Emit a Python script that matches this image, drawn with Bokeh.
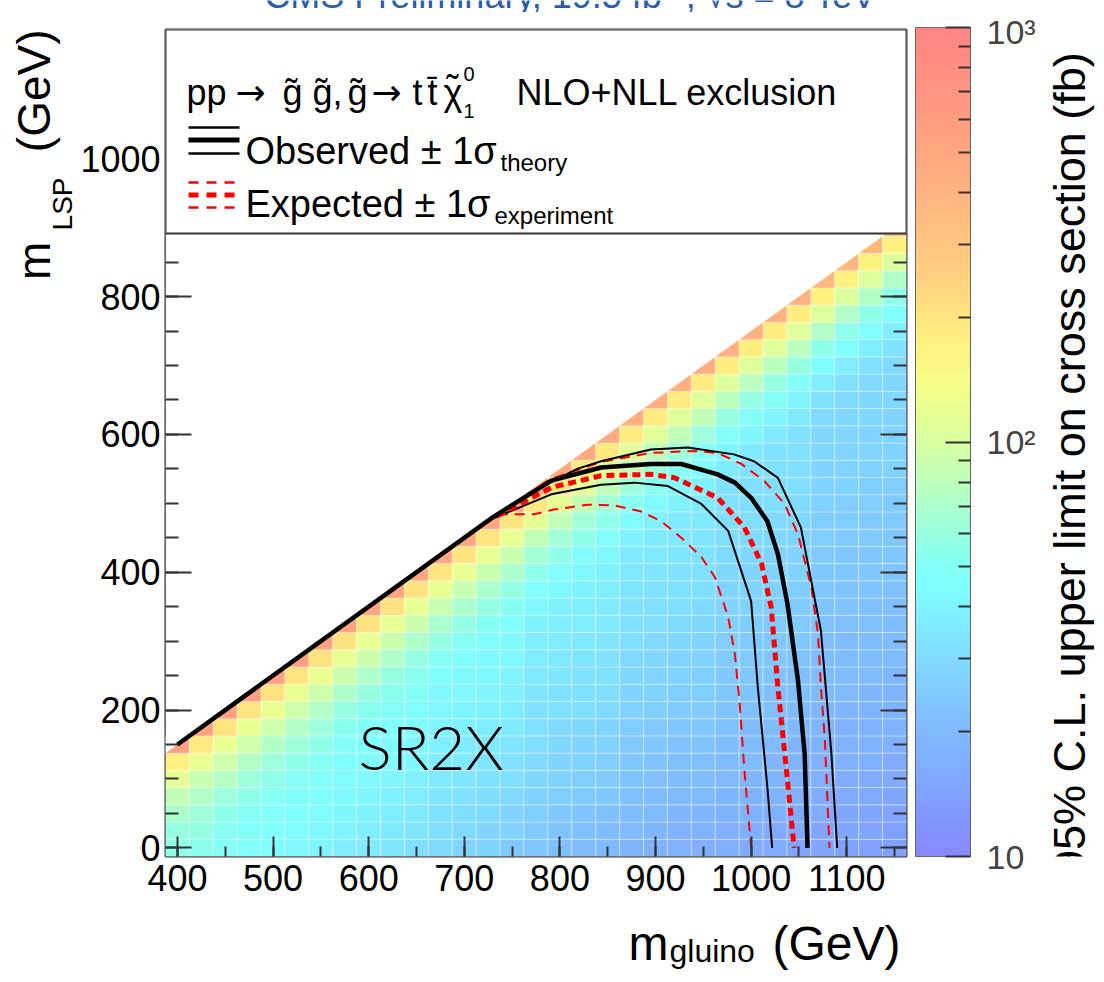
import numpy as np
from bokeh.plotting import figure
from bokeh.layouts import row, column
from bokeh.models import (LinearAxis, Range1d, ColorBar, LogColorMapper, FixedTicker, Title,
                          SingleIntervalTicker, BoxAnnotation, Label, ColumnDataSource)
from bokeh.embed import file_html
from bokeh.resources import INLINE

# ---------------- data ----------------
m_gluino = [400, 425, 450, 475, 500, 525, 550, 575, 600, 625, 650, 675, 700, 725, 750, 775,
            800, 825, 850, 875, 900, 925, 950, 975, 1000, 1025, 1050, 1075, 1100, 1125, 1150]
lsp_step = 25
# 95% CL upper limit (fb) per gluino-mass column, from m_LSP = 0 upward in 25 GeV steps
lim_400 = [55, 60, 70, 85, 115, 170, 550]
lim_425 = [54, 58, 64, 74, 88, 118, 190, 560]
lim_450 = [50, 52, 56, 63, 75, 92, 122, 200, 560]
lim_475 = [47, 48, 51, 55, 62, 74, 92, 122, 200, 550]
lim_500 = [45, 47, 48, 51, 55, 62, 74, 92, 122, 200, 550]
lim_525 = [42, 44, 46, 48, 51, 55, 62, 74, 92, 122, 200, 550]
lim_550 = [40, 42, 44, 46, 48, 51, 55, 62, 74, 92, 122, 200, 540]
lim_575 = [38, 40, 41, 43, 44, 46, 49, 53, 60, 72, 90, 120, 200, 520]
lim_600 = [36, 38, 39, 41, 43, 44, 46, 49, 53, 60, 72, 90, 120, 200, 520]
lim_625 = [34, 36, 37, 39, 41, 43, 44, 46, 49, 53, 60, 72, 90, 120, 200, 520]
lim_650 = [32, 34, 35, 37, 39, 41, 42, 44, 46, 49, 53, 60, 72, 90, 120, 200, 520]
lim_675 = [30, 31, 33, 34, 36, 37, 39, 40, 42, 43, 46, 51, 58, 70, 88, 118, 195, 500]
lim_700 = [28, 30, 31, 33, 34, 36, 37, 39, 40, 42, 43, 46, 51, 58, 70, 88, 118, 195, 500]
lim_725 = [27, 28, 30, 31, 33, 34, 36, 37, 39, 40, 42, 43, 46, 51, 58, 70, 88, 118, 195, 500]
lim_750 = [25, 27, 28, 30, 31, 33, 34, 36, 37, 39, 40, 42, 43, 46, 51, 58, 70, 88, 118, 195, 500]
lim_775 = [24, 25, 26, 27, 29, 30, 31, 32, 33, 34, 35, 37, 38, 39, 42, 47, 55, 66, 85, 115, 190, 470]
lim_800 = [22, 23, 24, 26, 27, 28, 29, 30, 32, 33, 34, 35, 37, 38, 39, 42, 47, 55, 66, 85, 115, 190, 470]
lim_825 = [21, 22, 23, 25, 26, 27, 28, 29, 31, 32, 33, 34, 35, 37, 38, 39, 42, 47, 55, 66, 85, 115, 190, 470]
lim_850 = [20, 21, 22, 24, 25, 26, 27, 28, 30, 31, 32, 33, 34, 35, 37, 38, 39, 42, 47, 55, 66, 85, 115, 190, 470]
lim_875 = [19, 20, 21, 22, 23, 24, 25, 26, 27, 28, 29, 30, 31, 32, 33, 34, 35, 36, 39, 44, 52, 63, 82, 112, 185, 440]
lim_900 = [18, 19, 20, 21, 22, 23, 24, 25, 26, 27, 28, 29, 30, 31, 32, 33, 34, 35, 36, 39, 44, 52, 63, 82, 112, 185, 440]
lim_925 = [18, 18, 19, 20, 21, 22, 23, 24, 25, 26, 27, 28, 29, 30, 31, 32, 33, 34, 35, 36, 39, 44, 52, 63, 82, 112, 185, 440]
lim_950 = [17, 18, 19, 20, 21, 22, 23, 24, 25, 26, 26, 27, 28, 29, 30, 31, 32, 33, 34, 35, 36, 39, 44, 52, 63, 82, 112, 185, 440]
lim_975 = [17, 17, 18, 19, 20, 20, 21, 22, 23, 24, 24, 25, 26, 27, 28, 28, 29, 30, 31, 31, 32,
           33, 36, 41, 49, 60, 78, 108, 178, 410]
lim_1000 = [16, 17, 18, 18, 19, 20, 21, 21, 22, 23, 24, 25, 25, 26, 27, 28, 28, 29, 30, 31, 31, 32,
            33, 36, 41, 49, 60, 78, 108, 178, 410]
lim_1025 = [16, 16, 17, 18, 19, 19, 20, 21, 22, 22, 23, 24, 25, 25, 26, 27, 28, 28, 29, 30, 31, 31, 32,
            33, 36, 41, 49, 60, 78, 108, 178, 410]
lim_1050 = [15, 16, 16, 17, 18, 19, 19, 20, 21, 22, 22, 23, 24, 25, 25, 26, 27, 28, 28, 29, 30, 31, 31, 32,
            33, 36, 41, 49, 60, 78, 108, 178, 410]
lim_1075 = [15, 15, 16, 16, 17, 18, 18, 19, 19, 20, 21, 21, 22, 23, 23, 24, 24, 25, 26, 26, 27, 28, 28, 29, 29,
            30, 33, 38, 46, 56, 74, 104, 170, 380]
lim_1100 = [14, 15, 15, 16, 16, 17, 18, 18, 19, 20, 20, 21, 21, 22, 23, 23, 24, 24, 25, 26, 26, 27, 28, 28, 29, 29,
            30, 33, 38, 46, 56, 74, 104, 170, 380]
lim_1125 = [14, 15, 15, 16, 16, 17, 18, 18, 19, 19, 20, 21, 21, 22, 22, 23, 24, 24, 25, 25, 26, 26, 27, 28, 28, 29, 29,
            30, 33, 38, 46, 56, 74, 104, 170, 380]
lim_1150 = [14, 14, 15, 15, 16, 16, 17, 18, 18, 19, 19, 20, 21, 21, 22, 22, 23, 24, 24, 25, 25, 26, 27, 27, 28, 28, 29, 29,
            30, 33, 38, 46, 56, 74, 104, 170, 380]
limit_columns = [lim_400, lim_425, lim_450, lim_475, lim_500, lim_525, lim_550, lim_575, lim_600, lim_625,
                 lim_650, lim_675, lim_700, lim_725, lim_750, lim_775, lim_800, lim_825, lim_850, lim_875,
                 lim_900, lim_925, lim_950, lim_975, lim_1000, lim_1025, lim_1050, lim_1075, lim_1100,
                 lim_1125, lim_1150]

# exclusion contours (m_gluino, m_LSP)
obs_x = [400, 730, 791, 843, 895, 927, 965, 983, 1000, 1017, 1028, 1038, 1049, 1056, 1059]
obs_y = [150, 480, 533, 552, 557, 557, 542, 530, 508, 474, 426, 354, 243, 136, 0]
obs_up_x = [730, 770, 818, 843, 895, 934, 982, 1003, 1028, 1052, 1073, 1084, 1090]
obs_up_y = [480, 516, 550, 561, 578, 581, 571, 561, 537, 465, 315, 136, 0]
obs_dn_x = [730, 791, 843, 878, 913, 948, 976, 1000, 1007, 1017, 1022]
obs_dn_y = [478, 513, 527, 530, 525, 499, 460, 358, 233, 88, 0]
exp_x = [735, 791, 843, 895, 920, 965, 993, 1011, 1021, 1028, 1037, 1045]
exp_y = [482, 523, 540, 542, 537, 508, 465, 412, 349, 233, 112, 0]
exp_dn_x = [735, 773, 794, 829, 857, 885, 906, 927, 948, 962, 976, 983, 988, 993, 1000]
exp_dn_y = [484, 484, 491, 498, 497, 488, 474, 450, 422, 393, 335, 281, 209, 112, 0]
exp_up_x = [735, 790, 843, 895, 941, 965, 990, 1014, 1035, 1049, 1063, 1070, 1073, 1077, 1082]
exp_up_y = [484, 535, 560, 573, 576, 573, 557, 532, 499, 455, 378, 310, 233, 160, 0]

cbar_ticks = [10, 100, 1000]
cbar_minor = [20, 30, 40, 50, 60, 70, 80, 90, 200, 300, 400, 500, 600, 700, 800, 900]
cbar_tick_labels = ["10", "10\u00b2", "10\u00b3"]

# ---------------- layout (page pixels) ----------------
W, H = 1096, 974
TOP_H = 12            # strip holding the cut-off title
BOT_H = 59            # strip holding the x-axis title
RIGHT_W = 52          # strip holding the colour-bar title
PW, PH = W - RIGHT_W, H - TOP_H - BOT_H
X0, X1 = 387.5, 1162.5
Y0, Y1 = -12.5, 1187.5
FL, FR, FT, FB = 165.0, 906.0, 29.0, 856.0   # frame edges on the page


def px_x(X):
    return X0 + (X - FL) * (X1 - X0) / (FR - FL)


def px_y(Y):
    return Y0 + (FB - Y) * (Y1 - Y0) / (FB - FT)


FONT = "Liberation Sans"
NB = "\u00a0"

p = figure(width=PW, height=PH, output_backend="svg", toolbar_location=None,
           x_range=Range1d(X0, X1), y_range=Range1d(Y0, Y1),
           min_border_left=int(FL), min_border_right=int(PW - FR),
           min_border_top=int(FT - TOP_H), min_border_bottom=int(TOP_H + PH - FB))
p.xgrid.visible = False
p.ygrid.visible = False
p.outline_line_color = "#333333"
p.outline_line_width = 2
p.background_fill_color = "white"
p.border_fill_color = "white"

# palette: pastel rainbow
anchors = [(0.0, "#8888ff"), (0.05, "#8098ff"), (0.09, "#80a8ff"), (0.17, "#80c0ff"),
           (0.25, "#80e0ff"), (0.33, "#80ffff"), (0.36, "#88fff0"), (0.43, "#b0ffc8"),
           (0.5, "#d8ffa0"), (0.57, "#f5ff88"), (0.62, "#fff080"), (0.7, "#ffd080"),
           (0.8, "#ffb480"), (0.9, "#ff9a80"), (1.0, "#ff8585")]
at = np.array([a[0] for a in anchors])
ac = np.array([[int(a[1][i:i + 2], 16) for i in (1, 3, 5)] for a in anchors], dtype=float)
palette = []
for t in np.linspace(0, 1, 200):
    rgb = [int(round(np.interp(t, at, ac[:, k]))) for k in range(3)]
    palette.append("#%02x%02x%02x" % tuple(rgb))
mapper = LogColorMapper(palette=palette, low=10, high=1000)

# heatmap cells
cx, cy, cv = [], [], []
for mg, col in zip(m_gluino, limit_columns):
    for i, v in enumerate(col):
        cx.append(mg)
        cy.append(i * lsp_step)
        cv.append(v)
src = ColumnDataSource(dict(x=cx, y=cy, v=cv))
p.rect("x", "y", width=lsp_step, height=lsp_step, source=src,
       fill_color={"field": "v", "transform": mapper},
       line_color="white", line_alpha=0.35, line_width=1)

# white mask above the kinematic diagonal
half = lsp_step / 2
dm_min = m_gluino[0] - (len(lim_400) - 1) * lsp_step
mx0, mx1 = m_gluino[0] - half, m_gluino[-1] + half
p.patch([mx0, mx1, mx1, mx0], [mx0 - dm_min, mx1 - dm_min, Y1 + 50, Y1 + 50],
        fill_color="white", line_color=None)

# contours
p.line(exp_up_x, exp_up_y, line_color="red", line_width=2, line_dash="10 7")
p.line(exp_dn_x, exp_dn_y, line_color="red", line_width=2, line_dash="10 7")
p.line(obs_up_x, obs_up_y, line_color="black", line_width=2)
p.line(obs_dn_x, obs_dn_y, line_color="black", line_width=2)
p.line(exp_x, exp_y, line_color="red", line_width=5, line_dash="8 5")
p.line(obs_x, obs_y, line_color="black", line_width=4.5)

# axes
for ax in (p.xaxis[0], p.yaxis[0]):
    ax.major_label_text_font = FONT
    ax.major_label_text_font_size = "36px"
    ax.major_label_text_color = "black"
    ax.axis_line_color = None
    ax.major_tick_out = 0
    ax.minor_tick_out = 0
    ax.major_tick_line_color = "#333333"
    ax.minor_tick_line_color = "#333333"
    ax.major_tick_line_width = 2
    ax.minor_tick_line_width = 2
p.xaxis[0].ticker = SingleIntervalTicker(interval=100, num_minor_ticks=2)
p.yaxis[0].ticker = SingleIntervalTicker(interval=200, num_minor_ticks=4)
p.xaxis[0].major_tick_in = 20
p.xaxis[0].minor_tick_in = 10
p.yaxis[0].major_tick_in = 26
p.yaxis[0].minor_tick_in = 13
p.xaxis[0].major_label_standoff = 8
p.yaxis[0].major_label_standoff = 5

rax = LinearAxis(ticker=SingleIntervalTicker(interval=200, num_minor_ticks=4),
                 major_label_text_font_size="1px", major_label_text_color=None,
                 major_label_standoff=0,
                 axis_line_color=None, major_tick_out=0, minor_tick_out=0,
                 major_tick_in=26, minor_tick_in=13,
                 major_tick_line_color="#333333", minor_tick_line_color="#333333",
                 major_tick_line_width=2, minor_tick_line_width=2)
p.add_layout(rax, "right")

cbar = ColorBar(color_mapper=mapper,
                ticker=FixedTicker(ticks=cbar_ticks, minor_ticks=cbar_minor),
                width=55, height=829, padding=0, margin=0, location=(9, 0),
                major_label_overrides={t: s for t, s in zip(cbar_ticks, cbar_tick_labels)},
                major_label_text_font=FONT, major_label_text_font_size="34px",
                major_tick_in=25, major_tick_out=0, minor_tick_in=12, minor_tick_out=0,
                major_tick_line_color="#333333", minor_tick_line_color="#333333",
                major_tick_line_width=2, minor_tick_line_width=2,
                label_standoff=16, bar_line_color="#666666", border_line_color=None,
                background_fill_color=None)
p.add_layout(cbar, "right")


def side_title(text, side, size, align, offset, standoff, valign="bottom"):
    t = Title(text=text, align=align, offset=offset, text_font=FONT,
              text_font_size="%dpx" % size, text_font_style="normal", text_color="black",
              vertical_align=valign)
    try:
        t.standoff = standoff
    except Exception:
        t.standoff = 0
    p.add_layout(t, side)
    return t


# y-axis title: m_LSP (GeV)
side_title("LSP", "left", 28, "right", 148, 0)
side_title("m" + NB * 7 + "(GeV)", "left", 46, "right", 0, -30)

# legend box
p.add_layout(BoxAnnotation(left=X0, right=X1, bottom=px_y(233), top=Y1,
                           fill_color="white", fill_alpha=1.0,
                           line_color="#333333", line_alpha=1.0, line_width=2))


def lab(text, X, Y, size, angle=0.0, align="left", baseline="alphabetic", color="black", font=FONT):
    l = Label(x=px_x(X), y=px_y(Y), text=text, text_font=font,
              text_font_size="%dpx" % size, angle=angle, text_align=align,
              text_baseline=baseline, text_color=color, level="overlay")
    p.add_layout(l)
    return l


# legend symbols
for yy, w in ((127, 2.5), (139.5, 5), (153, 2.5)):
    r = p.line([px_x(188), px_x(239)], [px_y(yy), px_y(yy)], line_color="black", line_width=w)
    r.level = "overlay"
for yy, w in ((182, 2.5), (194.5, 5), (207, 2.5)):
    r = p.line([px_x(188), px_x(239)], [px_y(yy), px_y(yy)], line_color="red", line_width=w,
               line_dash="10 8")
    r.level = "overlay"

# legend texts
L1 = 92
lab("pp", 186, L1, 36)
lab("\u2192", 235, L1, 36, font="DejaVu Sans")
lab("g\u0303", 282, L1, 36)
lab("g\u0303,", 312, L1, 36)
lab("g\u0303", 347, L1, 36)
lab("\u2192", 371, L1, 36, font="DejaVu Sans")
lab("t", 412, L1, 36)
lab("t\u0304", 427, L1, 36)
lab("\u03c7", 443, L1, 36)
lab("\u02dc", 452, L1 - 4, 36, align="center")
lab("0", 463, 73, 20)
lab("1", 463, 110, 20)
lab("NLO+NLL exclusion", 516, L1, 36)
lab("Observed \u00b1 1\u03c3", 245, 150, 38)
lab("theory", 500, 162, 24)
lab("Expected \u00b1 1\u03c3", 245, 203, 38)
lab("experiment", 494, 215, 24)

# SR2X
lab("SR2X", 358, 745, 62, font="'Lato Light', Lato")


# ---------------- text strips around the plot ----------------
def strip(w, h):
    s = figure(width=w, height=h, output_backend="svg", toolbar_location=None,
               x_range=Range1d(0, w), y_range=Range1d(0, h), min_border=0,
               x_axis_type=None, y_axis_type=None)
    s.xgrid.visible = False
    s.ygrid.visible = False
    s.outline_line_color = None
    s.background_fill_color = "white"
    s.border_fill_color = "white"
    return s


def slab(s, text, x, y, size, angle=0.0, align="left", color="black", font=FONT):
    s.add_layout(Label(x=x, y=y, text=text, text_font=font, text_font_size="%dpx" % size,
                       angle=angle, text_align=align, text_baseline="alphabetic",
                       text_color=color))


# top strip: title cut by the top edge
p_top = strip(W, TOP_H)
slab(p_top, "CMS Preliminary, 19.5 fb\u207b\u00b9, \u221as = 8 TeV", 570, 17, 36,
     align="center", color="#2a5db0")

# right strip: colour-bar title
p_right = strip(RIGHT_W, PH)
slab(p_right, "95% C.L. upper limit on cross section (fb)", 1069 - PW, PH - (486 - TOP_H), 45,
     angle=np.pi / 2, align="center")

# bottom strip: x-axis title
p_bot = strip(W, BOT_H)
slab(p_bot, "m", 628, 31, 48)
slab(p_bot, "gluino", 669, 24, 32)
slab(p_bot, "(GeV)", 772, 31, 48)

layout = column(p_top, row(p, p_right), p_bot)
open("out.html", "w").write(file_html(layout, INLINE))
